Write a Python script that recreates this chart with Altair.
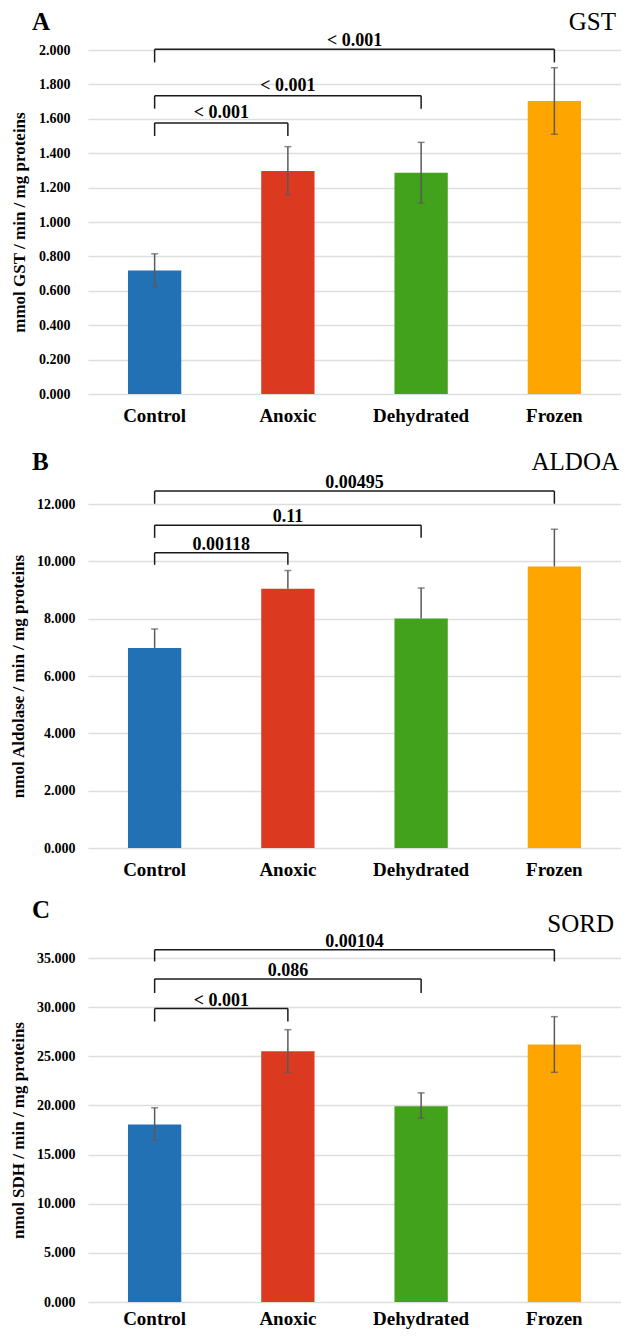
import altair as alt
import pandas as pd

groups = ["Control", "Anoxic", "Dehydrated", "Frozen"]
colors = ["#2271b5", "#dc3a20", "#43a21b", "#ffa500"]

# Panel A - GST
gst_mean = [0.718, 1.296, 1.286, 1.704]
gst_hi = [0.815, 1.438, 1.463, 1.897]
gst_lo = [0.625, 1.159, 1.110, 1.510]
gst_ticks = [0.0, 0.2, 0.4, 0.6, 0.8, 1.0, 1.2, 1.4, 1.6, 1.8, 2.0]
gst_br_target = ["Anoxic", "Dehydrated", "Frozen"]
gst_br_label = ["< 0.001", "< 0.001", "< 0.001"]
gst_br_top = [1.576, 1.734, 2.004]
gst_br_foot = [1.500, 1.659, 1.928]
gst_br_text = [1.632, 1.791, 2.054]

# Panel B - ALDOA (upper error bars only)
aldoa_mean = [6.98, 9.04, 8.01, 9.82]
aldoa_hi = [7.64, 9.68, 9.07, 11.12]
aldoa_lo = [None, None, None, None]
aldoa_ticks = [0, 2, 4, 6, 8, 10, 12]
aldoa_br_target = ["Anoxic", "Dehydrated", "Frozen"]
aldoa_br_label = ["0.00118", "0.11", "0.00495"]
aldoa_br_top = [10.30, 11.26, 12.45]
aldoa_br_foot = [9.88, 10.82, 12.01]
aldoa_br_text = [10.58, 11.54, 12.73]

# Panel C - SORD
sord_mean = [18.06, 25.51, 19.92, 26.19]
sord_hi = [19.76, 27.71, 21.28, 29.03]
sord_lo = [16.46, 23.37, 18.70, 23.37]
sord_ticks = [0, 5, 10, 15, 20, 25, 30, 35]
sord_br_target = ["Anoxic", "Dehydrated", "Frozen"]
sord_br_label = ["< 0.001", "0.086", "0.00104"]
sord_br_top = [29.85, 32.87, 35.84]
sord_br_foot = [28.53, 31.44, 34.65]
sord_br_text = [30.59, 33.70, 36.66]

FONT = "Liberation Serif"
W, H = 533, 344


def panel(letter, name, ytitle, mean, hi, lo, ticks, ymax,
          br_target, br_label, br_top, br_foot, br_text,
          label_pad, title_pad, letter_y, name_x, name_y, xlab_pad, frame_y=None):
    df = pd.DataFrame({
        "group": groups,
        "mean": mean,
        "hi": hi,
        "lo": [l if l is not None else m for l, m in zip(lo, mean)],
        "lo_tick": lo,
    })
    yscale = alt.Scale(domain=[0, ymax], nice=False, zero=True)
    xscale = alt.Scale(paddingInner=0.6, paddingOuter=0.3)
    xaxis = alt.Axis(title=None, labelAngle=0, domain=False, ticks=False,
                     grid=False, labelFont=FONT, labelFontSize=19,
                     labelFontWeight="bold", labelColor="#000000",
                     labelPadding=xlab_pad)
    yaxis = alt.Axis(values=ticks, format=".3f", title=ytitle,
                     domain=False, ticks=False, grid=True,
                     gridColor="#dedede", gridWidth=1.6,
                     labelOverlap=False,
                     labelFont=FONT, labelFontSize=14,
                     labelFontWeight="bold", labelColor="#000000",
                     labelPadding=label_pad,
                     titleFont=FONT, titleFontSize=17,
                     titleFontWeight="bold", titleColor="#000000",
                     titlePadding=title_pad)

    def xb():
        return alt.X("group:N", sort=groups, scale=xscale, axis=xaxis)

    def yq(field):
        return alt.Y(field, scale=yscale, axis=yaxis, title=ytitle)

    bars = alt.Chart(df).mark_bar().encode(
        x=xb(),
        y=yq("mean:Q"),
        color=alt.Color("group:N", scale=alt.Scale(domain=groups, range=colors),
                        legend=None),
    )
    err = alt.Chart(df).mark_rule(color="#5a5a5a", strokeWidth=1.5).encode(
        x=xb(),
        y=yq("lo:Q"),
        y2="hi:Q",
    )
    cap_hi = alt.Chart(df).mark_tick(color="#5a5a5a", size=7, thickness=1.5).encode(
        x=xb(),
        y=yq("hi:Q"),
    )
    cap_lo = alt.Chart(df).transform_filter("datum.lo_tick != null").mark_tick(
        color="#5a5a5a", size=7, thickness=1.5).encode(
        x=xb(),
        y=yq("lo_tick:Q"),
    )
    base_layer = alt.layer(bars, err, cap_hi, cap_lo)

    # significance brackets, on a linear axis aligned with the band centres
    pos = {g: i + 0.5 for i, g in enumerate(groups)}
    x0 = pos["Control"]
    segs = []
    labs = []
    for t, lab, top, foot, ty in zip(br_target, br_label, br_top, br_foot, br_text):
        xt = pos[t]
        segs.append({"x": x0, "x2": xt, "y": top, "y2": top})
        segs.append({"x": x0, "x2": x0, "y": foot, "y2": top})
        segs.append({"x": xt, "x2": xt, "y": foot, "y2": top})
        labs.append({"x": (x0 + xt) / 2, "y": ty, "label": lab})
    xlin = alt.Scale(domain=[0, 4], nice=False, zero=False)
    br = alt.Chart(pd.DataFrame(segs)).mark_rule(color="#1a1a1a", strokeWidth=1.5).encode(
        x=alt.X("x:Q", scale=xlin, axis=None),
        x2="x2:Q",
        y=yq("y:Q"),
        y2="y2:Q",
    )
    brt = alt.Chart(pd.DataFrame(labs)).mark_text(
        font=FONT, fontSize=18, fontWeight="bold", color="#000000", baseline="middle"
    ).encode(
        x=alt.X("x:Q", scale=xlin, axis=None),
        y=yq("y:Q"),
        text="label:N",
    )
    letter_t = alt.Chart(pd.DataFrame({"t": [letter]})).mark_text(
        font=FONT, fontSize=25, fontWeight="bold", color="#000000",
        align="left", baseline="alphabetic"
    ).encode(x=alt.value(-56), y=alt.value(letter_y), text="t:N")
    name_t = alt.Chart(pd.DataFrame({"t": [name]})).mark_text(
        font=FONT, fontSize=25, fontWeight="normal", color="#000000",
        align="right", baseline="alphabetic"
    ).encode(x=alt.value(name_x), y=alt.value(name_y), text="t:N")

    layers = [base_layer, br, brt, letter_t, name_t]
    if frame_y is not None:
        # invisible guide fixing the extent of the whole figure
        layers.append(alt.Chart(pd.DataFrame({"k": [0]})).mark_rule(
            opacity=0, strokeWidth=1).encode(
            x=alt.value(-100), x2=alt.value(560),
            y=alt.value(frame_y), y2=alt.value(frame_y)))
    return alt.layer(*layers).resolve_scale(x="independent").properties(
        width=W, height=H)


pA = panel("A", "GST", "mmol GST / min / mg proteins", gst_mean, gst_hi, gst_lo,
           gst_ticks, 2.0, gst_br_target, gst_br_label, gst_br_top, gst_br_foot,
           gst_br_text, 18, 10, -20, 528, -20, 12, frame_y=-70)
pB = panel("B", "ALDOA", "nmol Aldolase / min / mg proteins", aldoa_mean, aldoa_hi,
           aldoa_lo, aldoa_ticks, 12, aldoa_br_target, aldoa_br_label, aldoa_br_top,
           aldoa_br_foot, aldoa_br_text, 13, 9, -34, 531, -34, 12)
pC = panel("C", "SORD", "nmol SDH / min / mg proteins", sord_mean, sord_hi, sord_lo,
           sord_ticks, 35, sord_br_target, sord_br_label, sord_br_top, sord_br_foot,
           sord_br_text, 13, 9, -40, 526, -26, 7, frame_y=394)

chart = alt.vconcat(pA, pB, pC, spacing=110, bounds="flush").properties(
    padding={"left": -20, "top": -28, "right": -27, "bottom": -22}
).configure_view(stroke=None)

chart.save("out.html", embed_options={"renderer": "svg", "actions": False})
